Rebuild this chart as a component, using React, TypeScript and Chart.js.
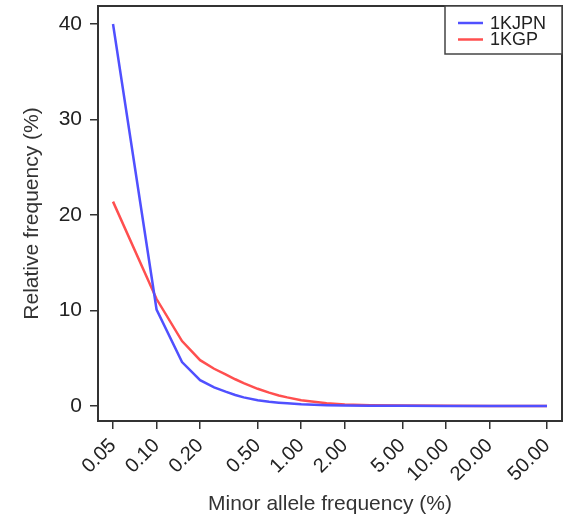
import { useEffect, useRef } from "react";
import { Chart, registerables } from "chart.js";

Chart.register(...registerables);

// Minor allele frequency bins (%)
const MAF = [0.05, 0.1, 0.15, 0.2, 0.25, 0.3, 0.35, 0.4, 0.5, 0.6, 0.7, 0.8, 1, 1.5, 2, 3, 5, 10, 20, 50];
// Relative frequency (%) per bin
const JPN = [40.0, 10.1, 4.6, 2.7, 1.95, 1.5, 1.15, 0.9, 0.6, 0.45, 0.35, 0.28, 0.18, 0.09, 0.05, 0.03, 0.02, 0.01, 0.01, 0.01];
const KGP = [21.4, 11.2, 6.8, 4.8, 3.9, 3.3, 2.8, 2.4, 1.8, 1.4, 1.1, 0.9, 0.6, 0.3, 0.15, 0.08, 0.04, 0.02, 0.01, 0.01];
const SERIES = ["1KJPN", "1KGP"];
const COLORS = ["#5050ff", "#ff4f4f"];
const X_TICKS = [0.05, 0.1, 0.2, 0.5, 1, 2, 5, 10, 20, 50];
const Y_TICKS = [0, 10, 20, 30, 40];

const FONT = '"Liberation Sans", Arial, Helvetica, sans-serif';

const boxPlugin = {
  id: "boxPlugin",
  afterDraw(chart: any) {
    const { ctx, chartArea } = chart;
    ctx.save();
    ctx.strokeStyle = "#333";
    ctx.lineWidth = 2;
    ctx.strokeRect(chartArea.left, chartArea.top, chartArea.right - chartArea.left, chartArea.bottom - chartArea.top);
    // legend
    const w = 117, h = 48;
    const x0 = chartArea.right - w, y0 = chartArea.top;
    ctx.fillStyle = "#fff";
    ctx.fillRect(x0, y0, w, h);
    ctx.lineWidth = 1.5;
    ctx.strokeStyle = "#444";
    ctx.strokeRect(x0, y0, w, h);
    chart.data.datasets.forEach((ds: any, i: number) => {
      const y = y0 + 17 + i * 16.5;
      ctx.strokeStyle = ds.borderColor;
      ctx.lineWidth = 2.5;
      ctx.beginPath();
      ctx.moveTo(x0 + 13, y);
      ctx.lineTo(x0 + 38, y);
      ctx.stroke();
      ctx.fillStyle = "#222";
      ctx.font = `18px ${FONT}`;
      ctx.textBaseline = "middle";
      ctx.textAlign = "left";
      ctx.fillText(ds.label, x0 + 45, y + 1);
    });
    ctx.restore();
  },
};

export default function App() {
  const ref = useRef<HTMLCanvasElement | null>(null);
  useEffect(() => {
    if (!ref.current) return;
    const chart = new Chart(ref.current, {
      type: "line",
      data: {
        datasets: [JPN, KGP].map((vals, i) => ({
          label: SERIES[i],
          data: MAF.map((x, j) => ({ x, y: vals[j] })),
          borderColor: COLORS[i],
          backgroundColor: COLORS[i],
          borderWidth: 2.5,
          pointRadius: 0,
          tension: 0,
          fill: false,
        })),
      },
      options: {
        animation: false,
        responsive: false,
        events: [],
        layout: { padding: { top: 6, right: 8, left: 0, bottom: 0 } },
        plugins: { legend: { display: false }, tooltip: { enabled: false } },
        scales: {
          x: {
            type: "logarithmic",
            min: 0.03937,
            max: 63.5,
            bounds: "data",
            afterBuildTicks: (s: any) => {
              s.ticks = X_TICKS.map((v) => ({ value: v }));
            },
            afterFit: (s: any) => {
              s.height = 98;
              s.paddingLeft = 0;
              s.paddingRight = 0;
            },
            border: { display: false },
            grid: { display: true, drawOnChartArea: false, drawTicks: true, tickLength: 8, color: "#333", lineWidth: 1.5 },
            ticks: {
              autoSkip: false,
              minRotation: 45,
              maxRotation: 45,
              padding: 12,
              color: "#222",
              font: { family: FONT, size: 20, lineHeight: 0.2 },
              callback: (v: any) => Number(v).toFixed(2),
            },
            title: {
              display: true,
              text: "Minor allele frequency (%)",
              color: "#333",
              font: { family: FONT, size: 21 },
              padding: { top: 0, bottom: 2 },
            },
          },
          y: {
            type: "linear",
            min: -1.571,
            max: 41.885,
            bounds: "data",
            afterBuildTicks: (s: any) => {
              s.ticks = Y_TICKS.map((v) => ({ value: v }));
            },
            afterFit: (s: any) => {
              s.width = 98;
              s.paddingTop = 0;
              s.paddingBottom = 0;
            },
            border: { display: false },
            grid: { display: true, drawOnChartArea: false, drawTicks: true, tickLength: 8, color: "#333", lineWidth: 1.5 },
            ticks: {
              padding: 8,
              color: "#222",
              font: { family: FONT, size: 21 },
              callback: (v: any) => String(v),
            },
            title: {
              display: true,
              text: "Relative frequency (%)",
              color: "#333",
              font: { family: FONT, size: 21 },
              padding: { top: 20, bottom: 0 },
            },
          },
        },
      },
      plugins: [boxPlugin],
    });
    return () => chart.destroy();
  }, []);
  return (
    <div style={{ position: "absolute", left: 0, top: 0, width: 570, height: 519, background: "#fff" }}>
      <canvas ref={ref} width={570} height={519} style={{ display: "block" }} />
    </div>
  );
}
